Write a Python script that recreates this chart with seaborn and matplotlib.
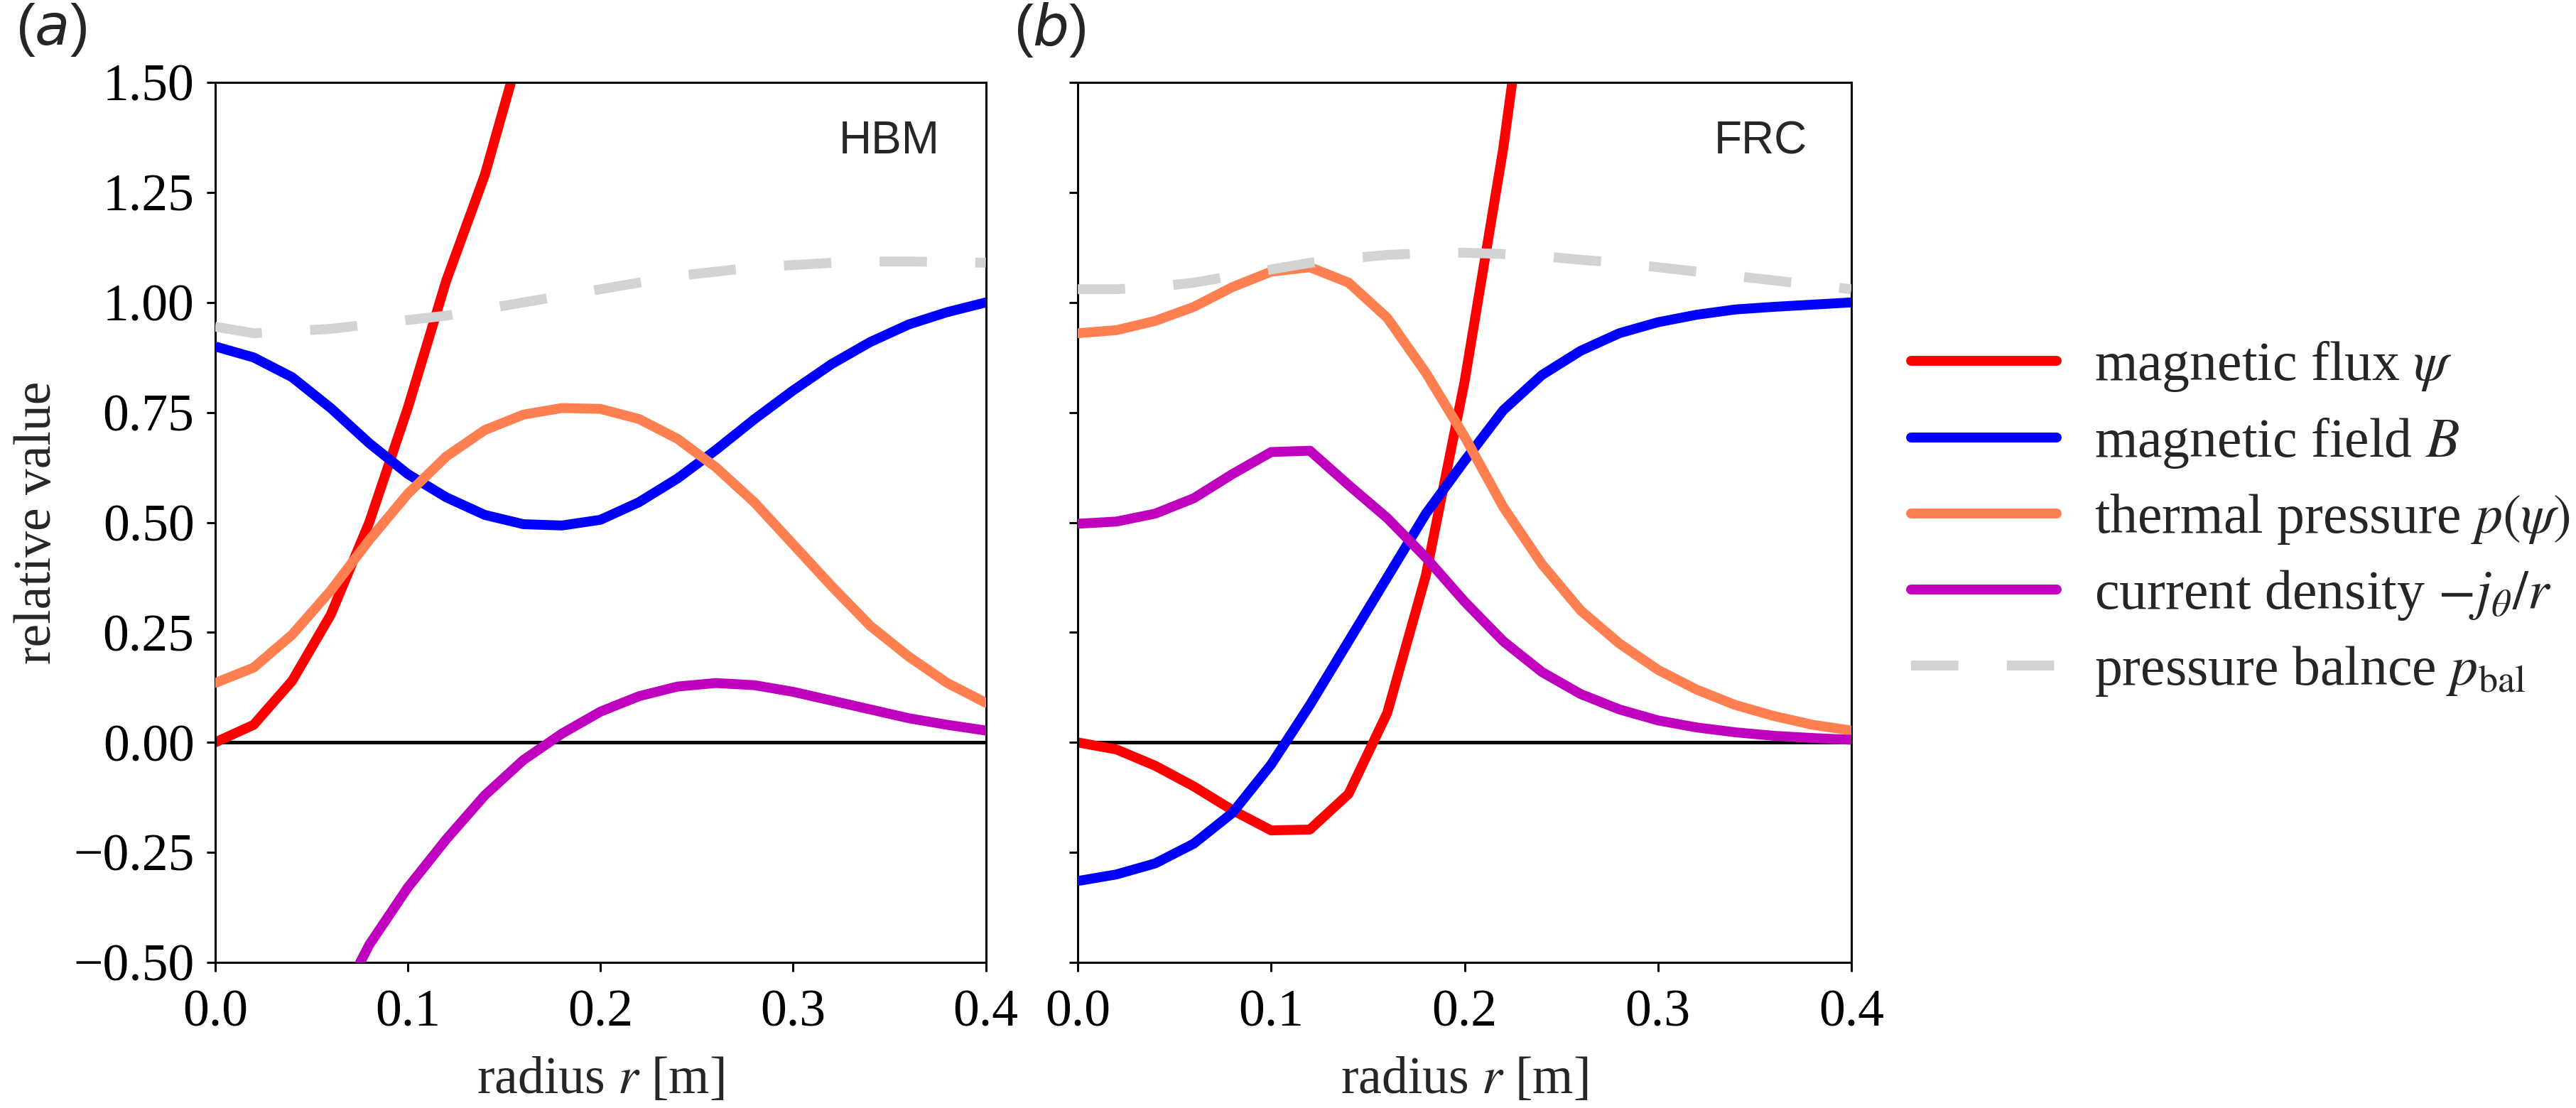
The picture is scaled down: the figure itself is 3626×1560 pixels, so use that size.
import numpy as np
import pandas as pd
import seaborn as sns
import matplotlib.pyplot as plt

# radius grid [m]
r = [0.00, 0.02, 0.04, 0.06, 0.08, 0.10, 0.12, 0.14, 0.16, 0.18, 0.20,
     0.22, 0.24, 0.26, 0.28, 0.30, 0.32, 0.34, 0.36, 0.38, 0.40]

# (a) HBM
hbm_psi = [0.00, 0.04, 0.14, 0.29, 0.50, 0.76, 1.05, 1.29, 1.60, 1.95, 2.30,
           2.65, 3.00, 3.30, 3.55, 3.75, 3.90, 4.00, 4.07, 4.11, 4.13]
hbm_B = [0.90, 0.875, 0.83, 0.76, 0.68, 0.61, 0.557, 0.517, 0.496, 0.493, 0.506,
         0.546, 0.60, 0.665, 0.735, 0.80, 0.86, 0.91, 0.95, 0.978, 1.00]
hbm_p = [0.135, 0.17, 0.245, 0.345, 0.46, 0.565, 0.65, 0.71, 0.745, 0.76, 0.758,
         0.735, 0.69, 0.625, 0.545, 0.45, 0.355, 0.265, 0.195, 0.135, 0.09]
hbm_j = [-1.40, -1.10, -0.85, -0.63, -0.46, -0.33, -0.22, -0.12, -0.04, 0.02, 0.07,
         0.105, 0.127, 0.135, 0.13, 0.115, 0.095, 0.075, 0.055, 0.04, 0.027]
hbm_bal = [0.945, 0.93, 0.935, 0.94, 0.95, 0.96, 0.97, 0.985, 1.00, 1.015, 1.03,
           1.045, 1.06, 1.07, 1.08, 1.085, 1.09, 1.093, 1.093, 1.092, 1.09]

# (b) FRC
frc_psi = [0.00, -0.016, -0.053, -0.10, -0.154, -0.20, -0.198, -0.117, 0.067, 0.38, 0.82,
           1.35, 2.00, 2.60, 3.10, 3.50, 3.80, 4.00, 4.12, 4.18, 4.20]
frc_B = [-0.315, -0.30, -0.275, -0.23, -0.16, -0.05, 0.085, 0.23, 0.375, 0.52, 0.64,
         0.755, 0.835, 0.89, 0.93, 0.955, 0.972, 0.984, 0.99, 0.995, 1.00]
frc_p = [0.93, 0.937, 0.958, 0.99, 1.035, 1.07, 1.08, 1.045, 0.965, 0.84, 0.695,
         0.535, 0.405, 0.30, 0.225, 0.165, 0.12, 0.085, 0.06, 0.04, 0.027]
frc_j = [0.497, 0.502, 0.52, 0.555, 0.61, 0.66, 0.663, 0.585, 0.51, 0.42, 0.32,
         0.23, 0.16, 0.11, 0.075, 0.05, 0.034, 0.023, 0.015, 0.01, 0.006]
frc_bal = [1.03, 1.03, 1.035, 1.045, 1.06, 1.075, 1.09, 1.10, 1.108, 1.112, 1.113,
           1.11, 1.105, 1.097, 1.09, 1.08, 1.07, 1.06, 1.05, 1.04, 1.03]

labels = [r'magnetic flux $\psi$', r'magnetic field $B$', r'thermal pressure $p(\psi)$',
          r'current density $-j_\theta/r$', r'pressure balnce $p_\mathrm{bal}$']
colors = ['red', 'blue', 'coral', '#bf00bf', 'lightgray']

sns.set_theme(style='ticks')
plt.rcParams['font.family'] = ['Liberation Serif', 'DejaVu Serif']
plt.rcParams['mathtext.fontset'] = 'stix'
plt.rcParams['axes.edgecolor'] = 'black'
plt.rcParams['axes.linewidth'] = 1.1
plt.rcParams['xtick.color'] = 'black'
plt.rcParams['ytick.color'] = 'black'
plt.rcParams['axes.unicode_minus'] = True

fig = plt.figure(figsize=(18.13, 7.8), dpi=200)
ax1 = fig.add_axes([0.0835, 0.1314, 0.2992, 0.7942])
ax2 = fig.add_axes([0.4184, 0.1314, 0.3003, 0.7942], sharey=ax1)

lw = 5.0
dash = (0, (4.8, 4.9))
fs = 26.5

for ax, series, tag, tx in [(ax1, [hbm_psi, hbm_B, hbm_p, hbm_j, hbm_bal], 'HBM', 0.875),
                            (ax2, [frc_psi, frc_B, frc_p, frc_j, frc_bal], 'FRC', 0.883)]:
    ax.axhline(0, color='black', lw=1.8, zorder=1)
    for i, y in enumerate(series):
        ls = dash if i == 4 else '-'
        sns.lineplot(x=r, y=y, ax=ax, color=colors[i], lw=lw, linestyle=ls,
                     label=labels[i] if ax is ax1 else None, errorbar=None,
                     sort=False, zorder=2 + i)
    ax.set_xlim(0, 0.4)
    ax.set_ylim(-0.5, 1.5)
    ax.set_xticks([0.0, 0.1, 0.2, 0.3, 0.4])
    ax.set_yticks([-0.5, -0.25, 0.0, 0.25, 0.5, 0.75, 1.0, 1.25, 1.5])
    ax.tick_params(axis='both', labelsize=fs, length=4.5, width=1.1)
    ax.tick_params(axis='y', pad=6)
    ax.tick_params(axis='x', pad=9)
    ax.set_xlabel(r'radius $r$ [m]', fontsize=fs, labelpad=10)
    ax.text(tx, 0.933, tag, transform=ax.transAxes, fontsize=23,
            family=['Liberation Sans', 'DejaVu Sans'], ha='center', va='center')
    if ax.get_legend() is not None:
        ax.get_legend().remove()

ax1.set_ylabel('relative value', fontsize=fs, labelpad=6)
ax2.tick_params(axis='y', labelleft=False)
ax2.set_ylabel('')

fig.text(0.006, 0.973, r'($a$)', fontsize=29, math_fontfamily='dejavusans',
         family=['Liberation Sans', 'DejaVu Sans'], ha='left', va='center')
fig.text(0.3935, 0.973, r'($b$)', fontsize=29, math_fontfamily='dejavusans',
         family=['Liberation Sans', 'DejaVu Sans'], ha='left', va='center')

handles, labs = ax1.get_legend_handles_labels()
fig.legend(handles, labs, loc='center left', bbox_to_anchor=(0.7225, 0.532),
           frameon=False, fontsize=28, handlelength=2.64, handletextpad=0.68,
           labelspacing=0.4)

fig.savefig('out.png', dpi=200)
